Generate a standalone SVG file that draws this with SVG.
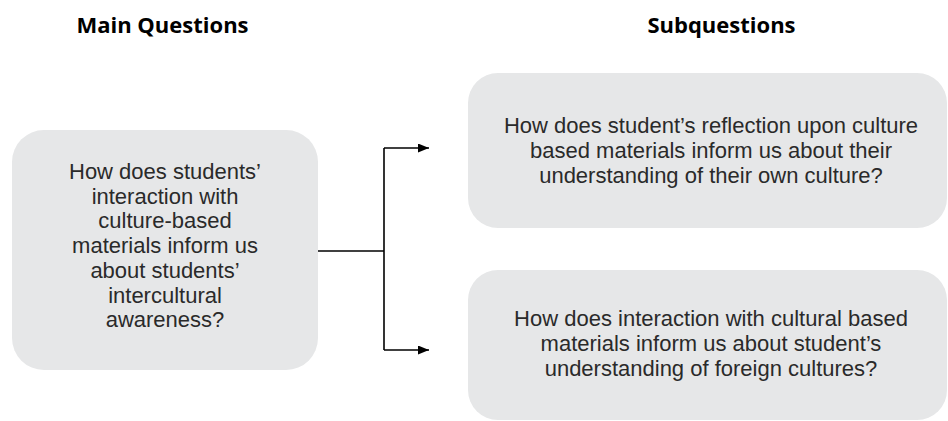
<svg xmlns="http://www.w3.org/2000/svg" width="948" height="421" viewBox="0 0 948 421">
<style>
.box{fill:#e6e7e8}
.t{font-family:"Liberation Sans","Open Sans",sans-serif;font-size:22px;fill:#2a2a2a;text-anchor:middle}
.h{font-family:"Open Sans","Noto Sans",sans-serif;font-size:22px;font-weight:bold;fill:#000;text-anchor:middle}
.c{fill:none;stroke:#000;stroke-width:1.6}
</style>
<defs>
<marker id="ah" viewBox="0 0 11 9" refX="11" refY="4.5" markerWidth="11" markerHeight="9" markerUnits="userSpaceOnUse" orient="auto">
<path d="M0,0 L11,4.5 L0,9 Z" fill="#000"/>
</marker>
</defs>
<g id="title-main"><text class="h" x="162.5" y="33">Main Questions</text></g>
<g id="title-sub"><text class="h" x="721.5" y="33">Subquestions</text></g>
<g id="main">
<rect class="box" x="12" y="130" width="306" height="240" rx="32"/>
<text class="t" y="179"><tspan x="165">How does students’</tspan><tspan x="165" dy="24.7">interaction with</tspan><tspan x="165" dy="24.7">culture-based</tspan><tspan x="165" dy="24.7">materials inform us</tspan><tspan x="165" dy="24.7">about students’</tspan><tspan x="165" dy="24.7">intercultural</tspan><tspan x="165" dy="24.7">awareness?</tspan></text>
</g>
<g id="sub1">
<rect class="box" x="468" y="73" width="479" height="155" rx="30"/>
<text class="t" y="133"><tspan x="711">How does student’s reflection upon culture</tspan><tspan x="711" dy="25">based materials inform us about their</tspan><tspan x="711" dy="25">understanding of their own culture?</tspan></text>
</g>
<g id="sub2">
<rect class="box" x="468" y="270" width="479" height="150" rx="30"/>
<text class="t" y="326"><tspan x="711">How does interaction with cultural based</tspan><tspan x="711" dy="25">materials inform us about student’s</tspan><tspan x="711" dy="25">understanding of foreign cultures?</tspan></text>
</g>
<g id="connectors">
<path class="c" d="M318,251 H384"/>
<path class="c" d="M384,148 V350"/>
<path class="c" d="M384,148 H429" marker-end="url(#ah)"/>
<path class="c" d="M384,350 H429" marker-end="url(#ah)"/>
</g>
</svg>
